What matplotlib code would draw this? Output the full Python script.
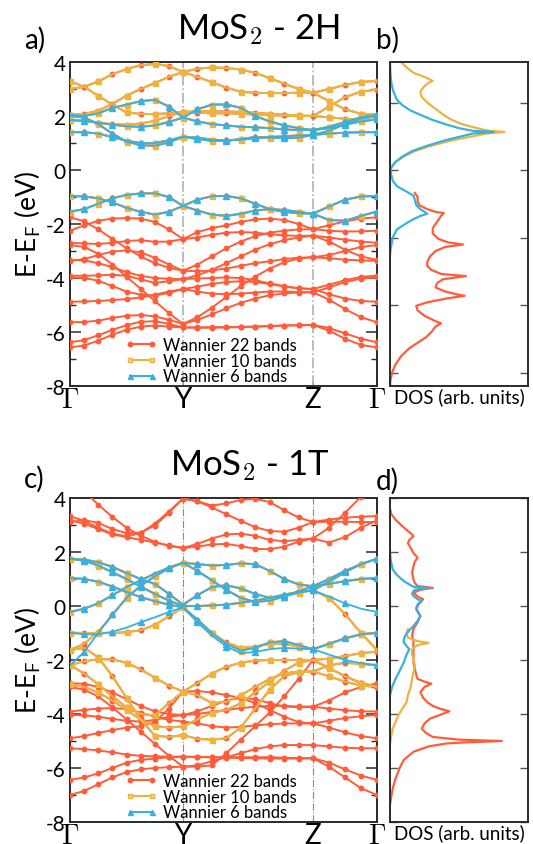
import numpy as np
import matplotlib
matplotlib.use("Agg")
import matplotlib.pyplot as plt
from matplotlib.lines import Line2D
from matplotlib.ticker import MultipleLocator

plt.rcParams['font.family'] = ['Lato', 'DejaVu Sans']
plt.rcParams['mathtext.fontset'] = 'cm'
plt.rcParams['axes.unicode_minus'] = False

# ---------------- k-path ----------------
K_LABELS = [r'$\Gamma$', 'Y', 'Z', r'$\Gamma$']
K_NODES = [0.0, 113.0, 243.0, 307.0]
SEGMENTS = [8, 9, 4]

# ---------------- MoS2 2H bands (eV) ----------------
# valence / conduction bands present in all three Wannier sets
h2_six = [
    [2.05, 2.0, 2.1, 2.3, 2.42, 2.55, 2.6, 2.35, 1.94, 2.25, 2.42, 2.43, 2.3, 2.0, 1.8, 1.65, 1.55, 1.48, 1.6, 1.78, 1.95, 2.05],
    [1.85, 1.82, 1.75, 1.68, 1.62, 1.6, 1.65, 1.78, 1.94, 1.8, 1.7, 1.65, 1.6, 1.58, 1.55, 1.5, 1.48, 1.48, 1.55, 1.68, 1.8, 1.88],
    [1.4, 1.4, 1.35, 1.22, 1.08, 1.0, 1.0, 1.1, 1.23, 1.15, 1.08, 1.08, 1.15, 1.22, 1.2, 1.18, 1.2, 1.3, 1.35, 1.38, 1.4, 1.4],
    [2.0, 1.95, 1.7, 1.35, 1.05, 0.92, 0.9, 1.02, 1.23, 1.2, 1.12, 1.1, 1.12, 1.18, 1.22, 1.25, 1.28, 1.3, 1.45, 1.7, 1.9, 2.0],
    [-0.96, -0.98, -1.05, -1.2, -1.4, -1.55, -1.65, -1.55, -1.33, -1.5, -1.65, -1.7, -1.62, -1.5, -1.45, -1.48, -1.55, -1.62, -1.35, -1.1, -0.98, -0.96],
    [-1.54, -1.45, -1.25, -1.05, -0.92, -0.87, -0.86, -1.0, -1.33, -1.1, -0.97, -0.96, -1.05, -1.25, -1.45, -1.55, -1.6, -1.62, -1.85, -1.88, -1.7, -1.54],
]
# extra bands of the 10-band set
h2_ten_extra = [
    [3.0, 3.08, 3.28, 3.55, 3.74, 3.88, 3.93, 3.85, 3.63, 3.75, 3.8, 3.78, 3.72, 3.6, 3.4, 3.2, 3.0, 2.86, 3.0, 3.15, 3.26, 3.3],
    [3.3, 3.08, 2.75, 2.42, 2.13, 2.08, 2.07, 2.1, 2.15, 2.17, 2.18, 2.17, 2.15, 2.12, 2.08, 2.05, 2.02, 2.0, 2.35, 2.7, 2.9, 2.98],
    [2.05, 2.07, 2.2, 2.45, 2.75, 3.0, 3.22, 3.45, 3.63, 3.45, 3.25, 3.05, 2.9, 2.86, 2.85, 2.85, 2.86, 2.86, 2.55, 2.25, 2.08, 2.05],
    [1.85, 1.82, 1.75, 1.7, 1.68, 1.72, 1.82, 2.0, 2.15, 2.12, 2.1, 2.1, 2.08, 2.05, 2.03, 2.02, 2.0, 2.0, 1.95, 1.9, 1.87, 1.85],
]
# extra bands of the 22-band set (S p states)
h2_22_extra = [
    [-1.75, -1.9, -2.2, -2.55, -2.9, -3.2, -3.45, -3.62, -3.73, -3.5, -3.2, -2.9, -2.65, -2.45, -2.32, -2.25, -2.2, -2.19, -2.05, -1.9, -1.8, -1.75],
    [-2.25, -2.05, -1.88, -1.8, -1.78, -1.8, -1.92, -2.2, -2.56, -2.3, -2.15, -2.05, -1.92, -1.83, -1.8, -1.85, -2.0, -2.19, -2.25, -2.28, -2.27, -2.25],
    [-2.7, -2.72, -2.74, -2.7, -2.63, -2.6, -2.66, -2.65, -2.56, -2.5, -2.4, -2.32, -2.3, -2.32, -2.38, -2.42, -2.44, -2.43, -2.5, -2.58, -2.65, -2.7],
    [-2.78, -2.85, -3.1, -3.5, -3.95, -4.4, -4.85, -5.3, -5.7, -5.45, -5.1, -4.7, -4.3, -3.95, -3.65, -3.42, -3.28, -3.23, -3.15, -3.0, -2.85, -2.78],
    [-3.33, -3.35, -3.45, -3.6, -3.78, -3.92, -4.0, -4.03, -4.04, -3.9, -3.7, -3.45, -3.2, -2.95, -2.75, -2.6, -2.5, -2.43, -2.65, -2.95, -3.2, -3.33],
    [-3.36, -3.3, -3.15, -3.02, -2.98, -3.05, -3.25, -3.5, -3.73, -3.75, -3.72, -3.65, -3.55, -3.45, -3.38, -3.3, -3.25, -3.23, -3.27, -3.32, -3.35, -3.36],
    [-3.91, -3.92, -3.9, -3.88, -3.92, -4.05, -4.18, -4.12, -4.04, -4.02, -4.0, -3.98, -4.0, -4.08, -4.2, -4.3, -4.38, -4.41, -4.25, -4.08, -3.96, -3.91],
    [-3.97, -4.0, -4.1, -4.3, -4.5, -4.62, -4.65, -4.55, -4.41, -4.5, -4.58, -4.6, -4.58, -4.54, -4.5, -4.5, -4.52, -4.53, -4.35, -4.15, -4.02, -3.97],
    [-4.88, -4.87, -4.85, -4.82, -4.78, -4.72, -4.62, -4.5, -4.41, -4.32, -4.22, -4.15, -4.12, -4.15, -4.22, -4.32, -4.38, -4.41, -4.6, -4.76, -4.85, -4.88],
    [-5.64, -5.63, -5.58, -5.48, -5.4, -5.37, -5.42, -5.55, -5.7, -5.55, -5.35, -5.12, -4.92, -4.76, -4.64, -4.57, -4.54, -4.53, -4.8, -5.15, -5.45, -5.64],
    [-6.38, -6.3, -6.12, -5.92, -5.75, -5.62, -5.6, -5.7, -5.83, -5.83, -5.82, -5.82, -5.81, -5.8, -5.78, -5.76, -5.75, -5.74, -5.85, -6.05, -6.25, -6.38],
    [-6.57, -6.5, -6.32, -6.1, -5.92, -5.8, -5.76, -5.8, -5.83, -5.84, -5.84, -5.83, -5.82, -5.8, -5.78, -5.76, -5.75, -5.74, -5.95, -6.25, -6.48, -6.57],
]

# ---------------- MoS2 1T bands (eV) ----------------
t1_six = [
    [1.75, 1.72, 1.62, 1.45, 1.22, 1.0, 0.82, 0.45, 0.05, 0.4, 0.7, 0.77, 0.65, 0.45, 0.3, 0.35, 0.55, 0.73, 1.0, 1.3, 1.55, 1.75],
    [1.75, 1.68, 1.5, 1.25, 1.0, 0.72, 0.45, 0.2, 0.0, 0.0, 0.02, 0.05, 0.12, 0.2, 0.3, 0.42, 0.52, 0.58, 0.9, 1.25, 1.55, 1.75],
    [1.04, 1.0, 0.9, 0.72, 0.52, 0.33, 0.18, 0.05, -0.05, -0.5, -1.0, -1.4, -1.65, -1.55, -1.35, -1.3, -1.45, -1.6, -1.4, -1.2, -1.05, -0.99],
    [-0.22, -0.1, 0.1, 0.4, 0.7, 0.95, 1.2, 1.42, 1.6, 1.55, 1.5, 1.52, 1.58, 1.55, 1.3, 1.0, 0.8, 0.73, 0.82, 0.92, 1.0, 1.04],
    [-0.99, -1.05, -1.05, -0.95, -0.8, -0.6, -0.42, -0.22, -0.05, -0.6, -1.1, -1.5, -1.75, -1.7, -1.6, -1.55, -1.58, -1.6, -1.8, -2.0, -2.12, -2.2],
    [-2.2, -1.7, -1.0, -0.3, 0.3, 0.75, 1.1, 1.4, 1.6, 1.3, 0.95, 0.6, 0.3, 0.15, 0.2, 0.35, 0.5, 0.58, 0.35, 0.1, -0.1, -0.22],
]
t1_ten = [
    t1_six[0], t1_six[1], t1_six[2], t1_six[3],
    [-0.99, -1.0, -1.0, -1.0, -0.97, -0.9, -0.7, -0.38, -0.05, -0.55, -1.0, -1.35, -1.55, -1.5, -1.4, -1.4, -1.5, -1.6, -1.4, -1.2, -1.05, -0.99],
    [-1.63, -1.4, -0.95, -0.35, 0.3, 0.75, 1.1, 1.4, 1.6, 1.3, 0.95, 0.6, 0.3, 0.15, 0.2, 0.35, 0.5, 0.58, 0.3, -0.3, -1.0, -1.63],
    [-2.19, -2.05, -1.97, -1.98, -2.1, -2.35, -2.65, -2.95, -3.17, -2.85, -2.5, -2.25, -2.1, -2.02, -2.0, -2.0, -2.0, -2.0, -1.95, -1.85, -1.75, -1.69],
    [-2.19, -2.5, -2.9, -3.35, -3.75, -4.0, -4.05, -3.6, -3.17, -3.3, -3.6, -3.55, -3.3, -3.0, -2.7, -2.5, -2.43, -2.43, -2.6, -2.8, -2.95, -2.99],
    [-1.63, -1.55, -1.9, -2.6, -3.4, -4.2, -4.8, -4.85, -4.78, -4.92, -4.95, -4.9, -4.5, -3.8, -3.1, -2.6, -2.45, -2.43, -2.2, -2.1, -2.15, -2.19],
    [-2.9, -3.0, -3.2, -3.5, -3.85, -4.2, -4.45, -4.5, -4.46, -4.2, -3.95, -3.85, -3.6, -3.2, -2.8, -2.4, -2.1, -2.0, -2.3, -2.6, -2.85, -2.99],
]
t1_22_extra = [
    [3.33, 3.15, 2.9, 2.68, 2.58, 2.7, 3.05, 3.5, 3.98, 3.88, 3.72, 3.8, 3.93, 3.97, 3.85, 3.55, 3.28, 3.11, 3.2, 3.27, 3.31, 3.33],
    [3.17, 3.05, 2.85, 2.65, 2.55, 2.45, 2.35, 2.25, 2.15, 2.3, 2.5, 2.65, 2.68, 2.6, 2.45, 2.4, 2.45, 2.5, 2.35, 2.55, 2.9, 3.17],
    [4.6, 4.25, 3.75, 3.3, 2.9, 2.6, 2.38, 2.22, 2.15, 2.2, 2.28, 2.3, 2.22, 2.12, 2.1, 2.2, 2.38, 2.5, 2.9, 3.45, 4.05, 4.6],
    [3.11, 3.18, 3.08, 2.85, 2.7, 2.72, 2.98, 3.45, 3.98, 3.88, 3.65, 3.4, 3.15, 2.92, 2.78, 2.75, 2.9, 3.11, 3.12, 3.12, 3.11, 3.11],
    [-2.86, -2.88, -3.0, -3.2, -3.45, -3.7, -3.9, -4.0, -4.04, -4.0, -3.92, -3.85, -3.78, -3.73, -3.7, -3.7, -3.72, -3.73, -3.5, -3.2, -3.0, -2.86],
    [-3.91, -3.85, -3.8, -3.78, -3.82, -3.95, -4.1, -4.22, -4.28, -4.35, -4.45, -4.5, -4.48, -4.42, -4.38, -4.35, -4.35, -4.35, -4.5, -4.68, -4.82, -4.9],
    [-4.04, -4.05, -4.1, -4.18, -4.25, -4.28, -4.22, -4.1, -4.04, -3.9, -3.7, -3.5, -3.4, -3.45, -3.6, -3.72, -3.75, -3.73, -3.8, -3.86, -3.9, -3.91],
    [-4.9, -4.82, -4.7, -4.6, -4.5, -4.45, -4.3, -3.8, -3.17, -3.15, -3.2, -3.3, -3.4, -3.6, -3.85, -4.1, -4.3, -4.35, -4.25, -4.15, -4.08, -4.04],
    [-5.27, -5.3, -5.35, -5.42, -5.5, -5.55, -5.57, -5.58, -5.58, -5.6, -5.6, -5.6, -5.6, -5.6, -5.6, -5.62, -5.63, -5.64, -5.95, -6.35, -6.75, -7.0],
    [-6.44, -6.35, -6.2, -6.0, -5.8, -5.7, -5.65, -5.6, -5.58, -5.58, -5.6, -5.62, -5.63, -5.64, -5.65, -5.65, -5.65, -5.64, -5.8, -6.05, -6.28, -6.44],
    [-7.0, -6.85, -6.6, -6.35, -6.15, -6.05, -6.0, -5.97, -5.95, -5.95, -5.9, -5.45, -4.95, -4.45, -3.95, -3.35, -2.7, -2.0, -2.3, -2.6, -2.85, -3.0],
    [-3.0, -3.1, -3.35, -3.75, -4.2, -4.65, -5.1, -5.55, -5.95, -5.9, -5.75, -5.6, -5.45, -5.3, -5.2, -5.15, -5.15, -5.15, -5.2, -5.25, -5.27, -5.27],
]

# ---------------- DOS (arb. units) ----------------
dos_2h_red_e = [-0.85, -1.0, -1.15, -1.3, -1.45, -1.55, -1.6, -1.7, -1.85, -2.0, -2.15, -2.35, -2.55, -2.68, -2.76, -2.85, -3.0, -3.2, -3.4, -3.55, -3.7, -3.85, -3.93, -4.05, -4.2, -4.35, -4.5, -4.6, -4.66, -4.75, -4.9, -5.03, -5.2, -5.4, -5.6, -5.68, -5.8, -6.0, -6.2, -6.4, -6.6, -6.9, -7.2, -7.5, -7.8, -8.0]
dos_2h_red = [0.18, 0.2, 0.2, 0.21, 0.27, 0.33, 0.39, 0.37, 0.35, 0.33, 0.31, 0.31, 0.35, 0.42, 0.53, 0.4, 0.33, 0.29, 0.27, 0.27, 0.3, 0.37, 0.55, 0.38, 0.34, 0.33, 0.4, 0.48, 0.54, 0.42, 0.27, 0.19, 0.2, 0.25, 0.33, 0.37, 0.33, 0.3, 0.26, 0.2, 0.14, 0.08, 0.04, 0.015, 0.003, 0.0]
dos_2h_yel_e = [4.0, 3.8, 3.6, 3.45, 3.3, 3.2, 3.05, 2.9, 2.7, 2.5, 2.3, 2.15, 2.0, 1.85, 1.7, 1.55, 1.45, 1.41, 1.35, 1.25, 1.1, 0.9, 0.7, 0.5, 0.3, 0.1, 0.0]
dos_2h_yel = [0.08, 0.12, 0.17, 0.25, 0.31, 0.27, 0.24, 0.22, 0.23, 0.27, 0.32, 0.36, 0.4, 0.45, 0.52, 0.63, 0.72, 0.83, 0.7, 0.6, 0.45, 0.3, 0.18, 0.1, 0.04, 0.01, 0.005]
dos_2h_blu_e = [4.0, 3.6, 3.2, 2.9, 2.6, 2.4, 2.2, 2.0, 1.85, 1.7, 1.55, 1.45, 1.41, 1.35, 1.25, 1.1, 0.9, 0.7, 0.5, 0.3, 0.1, 0.0, -0.2, -0.4, -0.6, -0.8, -0.95, -1.1, -1.3, -1.45, -1.55, -1.62, -1.7, -1.85, -2.0, -2.2, -2.5, -2.9, -3.2]
dos_2h_blu = [0.0, 0.003, 0.01, 0.025, 0.05, 0.09, 0.15, 0.24, 0.31, 0.4, 0.5, 0.6, 0.75, 0.6, 0.52, 0.4, 0.27, 0.16, 0.09, 0.04, 0.01, 0.005, 0.01, 0.02, 0.05, 0.12, 0.17, 0.18, 0.19, 0.22, 0.25, 0.27, 0.22, 0.16, 0.11, 0.05, 0.02, 0.005, 0.0]

dos_1t_red_e = [3.6, 3.4, 3.2, 3.0, 2.82, 2.65, 2.58, 2.45, 2.33, 2.15, 1.96, 1.85, 1.78, 1.65, 1.47, 1.25, 0.98, 0.85, 0.74, 0.67, 0.6, 0.49, 0.35, 0.25, 0.1, -0.12, -0.37, -0.6, -0.85, -1.1, -1.3, -1.5, -1.75, -2.09, -2.33, -2.55, -2.7, -2.82, -2.88, -3.0, -3.19, -3.4, -3.56, -3.7, -3.8, -3.9, -4.0, -4.17, -4.35, -4.54, -4.7, -4.85, -4.95, -5.0, -5.05, -5.09, -5.2, -5.4, -5.7, -6.0, -6.4, -6.75, -7.1, -7.36]
dos_1t_red = [0.0, 0.01, 0.04, 0.08, 0.12, 0.16, 0.17, 0.14, 0.13, 0.15, 0.17, 0.19, 0.2, 0.18, 0.17, 0.16, 0.17, 0.18, 0.2, 0.31, 0.22, 0.17, 0.2, 0.24, 0.21, 0.19, 0.22, 0.2, 0.17, 0.16, 0.17, 0.17, 0.17, 0.17, 0.18, 0.19, 0.2, 0.26, 0.3, 0.25, 0.22, 0.24, 0.27, 0.31, 0.36, 0.43, 0.38, 0.29, 0.25, 0.23, 0.26, 0.31, 0.5, 0.81, 0.55, 0.41, 0.28, 0.17, 0.1, 0.07, 0.04, 0.02, 0.008, 0.0]
dos_1t_yel_e = [-0.86, -1.0, -1.17, -1.3, -1.37, -1.45, -1.6, -1.8, -1.96, -2.2, -2.45, -2.7, -3.0, -3.3, -3.56, -3.8, -4.05, -4.3, -4.54, -4.85, -5.15]
dos_1t_yel = [0.13, 0.12, 0.13, 0.2, 0.28, 0.2, 0.16, 0.16, 0.17, 0.18, 0.17, 0.16, 0.15, 0.13, 0.12, 0.09, 0.06, 0.04, 0.02, 0.008, 0.0]
dos_1t_blu_e = [2.0, 1.7, 1.35, 1.15, 0.92, 0.8, 0.71, 0.67, 0.6, 0.55, 0.45, 0.37, 0.25, 0.18, 0.05, -0.06, -0.2, -0.37, -0.55, -0.74, -0.9, -1.1, -1.25, -1.35, -1.48, -1.6, -1.8, -2.09, -2.4, -2.7, -3.0, -3.3]
dos_1t_blu = [0.0, 0.005, 0.02, 0.05, 0.1, 0.14, 0.17, 0.28, 0.18, 0.17, 0.16, 0.17, 0.2, 0.23, 0.2, 0.19, 0.2, 0.22, 0.2, 0.17, 0.14, 0.11, 0.1, 0.1, 0.12, 0.14, 0.12, 0.1, 0.07, 0.04, 0.015, 0.0]

# ---------------- styling ----------------
RED = '#ff5c3a'
YEL = '#eeb33f'
BLU = '#36b1e0'
FRAME = '#2a2a2a'
LEGEND_LABELS = ['Wannier 22 bands', 'Wannier 10 bands', 'Wannier 6 bands']


def kpath():
    pts = []
    for i, n in enumerate(SEGMENTS):
        seg = np.linspace(K_NODES[i], K_NODES[i + 1], n + 1)
        pts.extend(seg if i == 0 else seg[1:])
    return np.array(pts)


KX = kpath()


def draw_bands(ax, set22, set10, set6, vline_color, vline_width):
    for b in set22:
        ax.plot(KX, b, '-', color=RED, lw=1.4, marker='o', ms=3.2, zorder=3)
    for b in set10:
        ax.plot(KX, b, '-', color=YEL, lw=1.5, marker='s', ms=3.6,
                markevery=slice(0, None, 2), zorder=4)
    for b in set6:
        ax.plot(KX, b, '-', color=BLU, lw=1.3, marker='^', ms=4.0,
                markevery=slice(1, None, 2), zorder=5)
    for k in K_NODES[1:3]:
        ax.axvline(k, color=vline_color, lw=vline_width, ls='-.', zorder=1)
    ax.set_xlim(K_NODES[0], K_NODES[-1])
    ax.set_ylim(-8, 4)
    ax.yaxis.set_major_locator(MultipleLocator(2))
    ax.yaxis.set_minor_locator(MultipleLocator(1))
    ax.tick_params(axis='y', which='major', direction='in', left=True, right=True,
                   length=8, width=1.1, labelsize=15, pad=3, color=FRAME)
    ax.tick_params(axis='y', which='minor', direction='in', left=True, right=True,
                   length=4, width=1.0, color=FRAME)
    ax.set_xticks(K_NODES)
    ax.set_xticklabels(K_LABELS)
    ax.tick_params(axis='x', direction='in', length=3, labelsize=20, pad=0, color='#999999')
    ax.set_ylabel('E-E$_\\mathsf{F}$ (eV)', fontsize=19, labelpad=2)
    for s in ax.spines.values():
        s.set_color(FRAME)
        s.set_linewidth(1.4)
    handles = [
        Line2D([], [], color=RED, lw=1.5, marker='o', ms=3.2),
        Line2D([], [], color=YEL, lw=1.5, marker='s', ms=3.4, mfc='#f6d79a'),
        Line2D([], [], color=BLU, lw=1.5, marker='^', ms=3.6),
    ]
    ax.legend(handles, LEGEND_LABELS, loc='lower left', bbox_to_anchor=(0.18, 0.005),
              frameon=False, fontsize=12, handlelength=1.9, handletextpad=0.35,
              labelspacing=-0.02, borderpad=0.0, borderaxespad=0.0, numpoints=2)


def draw_dos(ax, curves, step):
    for e, d, c in curves:
        ax.plot(d, e, '-', color=c, lw=1.6)
    ax.set_xlim(0, 1)
    ax.set_ylim(-8, 4)
    ax.set_xticks([])
    ax.yaxis.set_major_locator(MultipleLocator(step))
    ax.tick_params(axis='y', direction='in', left=True, right=True, length=6,
                   width=1.0, labelleft=False, color='#555555')
    ax.set_xlabel('DOS (arb. units)', fontsize=13.5, labelpad=1)
    for s in ax.spines.values():
        s.set_color(FRAME)
        s.set_linewidth(1.4)


W, H = 533, 845
fig = plt.figure(figsize=(W / 100, H / 100), dpi=100)


def rect(x0, x1, y_top, y_bot):
    return [x0 / W, 1 - y_bot / H, (x1 - x0) / W, (y_bot - y_top) / H]


ax_a = fig.add_axes(rect(70, 377, 63, 387))
ax_b = fig.add_axes(rect(390, 528, 63, 387))
ax_c = fig.add_axes(rect(70, 377, 499, 823))
ax_d = fig.add_axes(rect(390, 528, 499, 823))

draw_bands(ax_a, h2_six + h2_ten_extra + h2_22_extra, h2_six + h2_ten_extra, h2_six,
           '#b0b0b0', 1.2)
draw_bands(ax_c, t1_ten + t1_22_extra, t1_ten, t1_six, '#8a8a8a', 0.8)

draw_dos(ax_b, [(dos_2h_red_e, dos_2h_red, RED),
                (dos_2h_yel_e, dos_2h_yel, YEL),
                (dos_2h_blu_e, dos_2h_blu, BLU)], 2.5)
draw_dos(ax_d, [(dos_1t_red_e, dos_1t_red, RED),
                (dos_1t_yel_e, dos_1t_yel, YEL),
                (dos_1t_blu_e, dos_1t_blu, BLU)], 2.0)

fig.text(177 / W, 1 - 39 / H, r'MoS$_\mathsf{2}$ - 2H', fontsize=25, ha='left', va='baseline')
fig.text(170 / W, 1 - 475 / H, r'MoS$_\mathsf{2}$ - 1T', fontsize=25, ha='left', va='baseline')
fig.text(24 / W, 1 - 49 / H, 'a)', fontsize=20, ha='left', va='baseline')
fig.text(376 / W, 1 - 49 / H, 'b)', fontsize=20, ha='left', va='baseline')
fig.text(24 / W, 1 - 488 / H, 'c)', fontsize=20, ha='left', va='baseline')
fig.text(376 / W, 1 - 490 / H, 'd)', fontsize=20, ha='left', va='baseline')

fig.savefig('out.png', dpi=100)
